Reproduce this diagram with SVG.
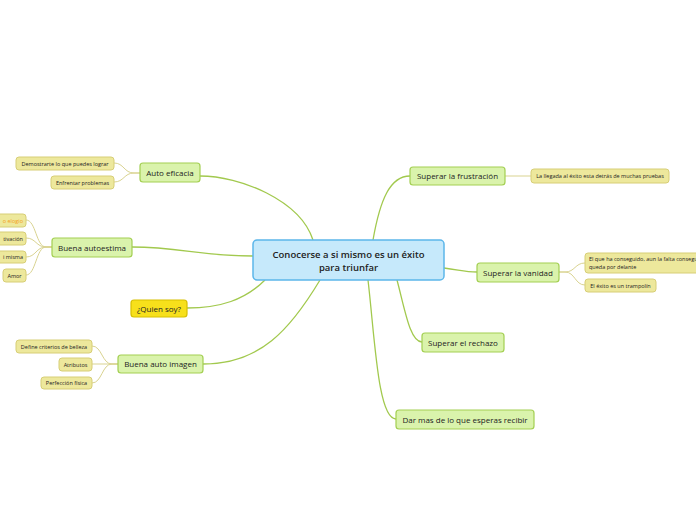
<svg xmlns="http://www.w3.org/2000/svg" width="696" height="520" viewBox="0 0 696 520">
<style>
text{font-family:"Open Sans","Noto Sans","Liberation Sans",sans-serif;fill:#222;}
.c rect{fill:#c6e9fb;stroke:#5cb6ea;stroke-width:1.5;}
.c text{font-size:9.5px;font-weight:600;}
.m rect{fill:#daf3ac;stroke:#a3cf52;stroke-width:1.2;}
.m text{font-size:8px;}
.q rect{fill:#f7e01b;stroke:#d7bf00;stroke-width:1.2;}
.q text{font-size:8px;}
.s rect{fill:#ede89c;stroke:#d7ce76;stroke-width:1;}
.s text{font-size:5.5px;}
.main{fill:none;stroke:#a2c94e;stroke-width:1.3;}
.sub{fill:none;stroke:#d9d390;stroke-width:1;}
</style>
<rect width="696" height="520" fill="#ffffff"/>
<g id="connectors">
<path class="main" d="M313,240 C300,200 240,176 200,176"/>
<path class="main" d="M253,256 C200,256 180,247 132,247"/>
<path class="main" d="M265,280 C245,300 220,308 187,308"/>
<path class="main" d="M320,280 C290,330 260,364 203,364"/>
<path class="main" d="M373,240 C380,200 390,176 410,176"/>
<path class="main" d="M444,268 C460,270 465,272 477,272"/>
<path class="main" d="M397,280 C405,310 410,342 422,342"/>
<path class="main" d="M368,280 C375,340 378,419 396,419"/>
<path class="sub" d="M140,173 L134,173 C124,173 124,163 114,163"/>
<path class="sub" d="M140,173 L134,173 C124,173 124,182 114,182"/>
<path class="sub" d="M52,247 L46,247 C36,247 36,220 26,220"/>
<path class="sub" d="M52,247 L46,247 C36,247 36,238 26,238"/>
<path class="sub" d="M52,247 L46,247 C36,247 36,257 26,257"/>
<path class="sub" d="M52,247 L46,247 C36,247 36,275 26,275"/>
<path class="sub" d="M118,364 L112,364 C102,364 102,346 92,346"/>
<path class="sub" d="M118,364 L92,364"/>
<path class="sub" d="M118,364 L112,364 C102,364 102,383 92,383"/>
<path class="sub" d="M505,176 L531,176"/>
<path class="sub" d="M559,272 L565,272 C575,272 575,263 585,263"/>
<path class="sub" d="M559,272 L565,272 C575,272 575,285 585,285"/>
</g>
<g id="center" class="c"><rect x="253" y="240" width="191" height="40" rx="4"/><text x="348.5" y="257.5" text-anchor="middle">Conocerse a si mismo es un éxito</text><text x="348.5" y="271" text-anchor="middle">para triunfar</text></g>
<g id="auto-eficacia" class="m"><rect x="140" y="163" width="60" height="19" rx="3"/><text x="170" y="175.5" text-anchor="middle">Auto eficacia</text></g>
<g id="demostrarte" class="s"><rect x="16" y="157" width="98" height="13" rx="3"/><text x="65" y="165.5" text-anchor="middle">Demostrarte lo que puedes lograr</text></g>
<g id="enfrentar" class="s"><rect x="51" y="176" width="63" height="13" rx="3"/><text x="82.5" y="184.5" text-anchor="middle">Enfrentar problemas</text></g>
<g id="buena-autoestima" class="m"><rect x="52" y="238" width="80" height="19" rx="3"/><text x="92" y="250.5" text-anchor="middle">Buena autoestima</text></g>
<g id="elogio" class="s"><rect x="-20" y="214" width="46" height="13" rx="3"/><text x="23" y="222.5" text-anchor="end" style="fill:#f5a020">o elogio</text></g>
<g id="motivacion" class="s"><rect x="-20" y="232" width="46" height="13" rx="3"/><text x="23" y="240.5" text-anchor="end">tivación</text></g>
<g id="misma" class="s"><rect x="-20" y="251" width="46" height="12" rx="3"/><text x="23" y="259" text-anchor="end">i misma</text></g>
<g id="amor" class="s"><rect x="3" y="269" width="23" height="13" rx="3"/><text x="14.5" y="277.5" text-anchor="middle">Amor</text></g>
<g id="quien-soy" class="q"><rect x="131" y="300" width="56" height="17" rx="3"/><text x="159" y="311.5" text-anchor="middle">¿Quien soy?</text></g>
<g id="buena-auto-imagen" class="m"><rect x="118" y="355" width="85" height="18" rx="3"/><text x="160.5" y="367" text-anchor="middle">Buena auto imagen</text></g>
<g id="define" class="s"><rect x="16" y="340" width="76" height="13" rx="3"/><text x="54" y="348.5" text-anchor="middle">Define criterios de belleza</text></g>
<g id="atributos" class="s"><rect x="59" y="358" width="33" height="13" rx="3"/><text x="75.5" y="366.5" text-anchor="middle">Atributos</text></g>
<g id="perfeccion" class="s"><rect x="41" y="377" width="51" height="12" rx="3"/><text x="66.5" y="385" text-anchor="middle">Perfección física</text></g>
<g id="superar-frustracion" class="m"><rect x="410" y="167" width="95" height="18" rx="3"/><text x="457.5" y="179" text-anchor="middle">Superar la frustración</text></g>
<g id="llegada" class="s"><rect x="531" y="169" width="138" height="14" rx="3"/><text x="600" y="178" text-anchor="middle">La llegada al éxito esta detrás de muchas pruebas</text></g>
<g id="superar-vanidad" class="m"><rect x="477" y="263" width="82" height="19" rx="3"/><text x="518" y="275.5" text-anchor="middle">Superar la vanidad</text></g>
<g id="el-que" class="s"><rect x="585" y="253" width="130" height="20" rx="3"/><text x="589" y="261">El que ha conseguido, aun la falta conseguir</text><text x="589" y="269">queda por delante</text></g>
<g id="trampolin" class="s"><rect x="585" y="279" width="71" height="13" rx="3"/><text x="620.5" y="287.5" text-anchor="middle">El éxito es un trampolín</text></g>
<g id="superar-rechazo" class="m"><rect x="422" y="333" width="82" height="19" rx="3"/><text x="463" y="345.5" text-anchor="middle">Superar el rechazo</text></g>
<g id="dar-mas" class="m"><rect x="396" y="410" width="138" height="19" rx="3"/><text x="465" y="422.5" text-anchor="middle">Dar mas de lo que esperas recibir</text></g>
</svg>
